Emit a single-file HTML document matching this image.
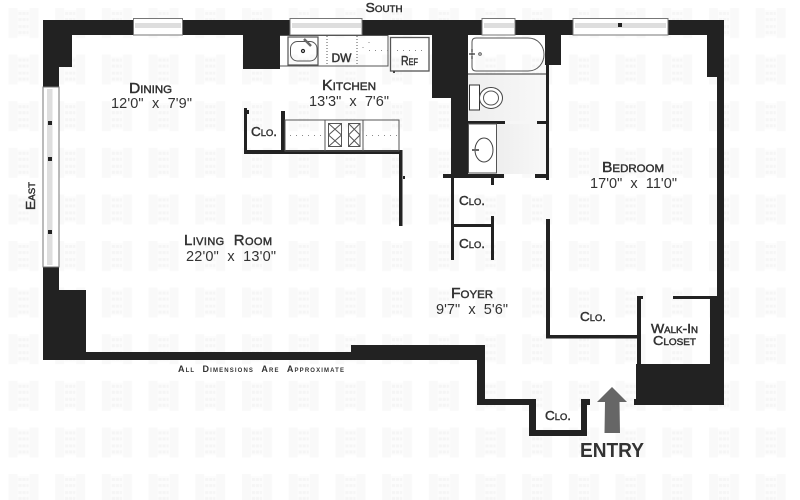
<!DOCTYPE html>
<html><head><meta charset="utf-8"><title>Floor plan</title>
<style>
html,body{margin:0;padding:0;background:#fff}
svg{display:block}
text{font-family:"Liberation Sans",sans-serif;fill:#333}
.l{font-variant:small-caps;font-size:15px;stroke:#333;stroke-width:.45}
.d{font-size:14.5px;fill:#333}
</style></head><body>
<svg width="800" height="500" viewBox="0 0 800 500" xmlns="http://www.w3.org/2000/svg">
<defs>
<pattern id="wm" x="8.5" y="8" width="46.7" height="46.6" patternUnits="userSpaceOnUse">
<rect x="0" y="0" width="9" height="30" fill="#f9f9f9"/>
<rect x="21" y="0" width="9" height="30" fill="#f9f9f9"/>
<rect x="9" y="2" width="12" height="26" fill="#fcfcfc"/>
<g fill="#f5f5f5">
<rect x="10" y="4" width="3" height="3"/><rect x="14" y="4" width="3" height="3"/><rect x="18" y="4" width="2" height="3"/>
<rect x="10" y="10" width="3" height="3"/><rect x="14" y="10" width="3" height="3"/><rect x="18" y="10" width="2" height="3"/>
<rect x="10" y="17" width="3" height="3"/><rect x="14" y="17" width="3" height="3"/><rect x="18" y="17" width="2" height="3"/>
<rect x="10" y="23" width="3" height="3"/><rect x="14" y="23" width="3" height="3"/><rect x="18" y="23" width="2" height="3"/>
</g>
</pattern>
<linearGradient id="fl" x1="0" x2="1"><stop offset="0" stop-color="#eeeeee"/><stop offset="1" stop-color="#f8f8f8"/></linearGradient>
</defs>
<rect width="800" height="500" fill="#fff"/>
<rect width="800" height="500" fill="url(#wm)"/>

<!-- bath floors -->
<rect x="468" y="74" width="78" height="47" fill="url(#fl)"/>
<rect x="497" y="124" width="49" height="50" fill="url(#fl)"/>
<rect x="505" y="121" width="32" height="3" fill="#f6f6f6"/>

<!-- thick walls -->
<g fill="#222">
<rect x="43" y="20" width="681" height="15"/>
<rect x="43" y="20" width="29" height="47"/>
<rect x="43" y="60" width="16" height="27"/>
<rect x="243" y="35" width="37" height="34"/>
<rect x="432" y="35" width="36" height="63"/>
<rect x="451" y="98" width="17" height="77"/>
<rect x="545" y="35" width="16" height="30"/>
<rect x="546" y="65" width="3" height="115"/>
<rect x="707" y="35" width="17" height="42"/>
<rect x="717" y="77" width="7" height="328"/>
<rect x="710" y="296" width="7" height="68"/>
<rect x="636" y="364" width="88" height="41"/>
<rect x="634" y="399" width="3" height="6"/>
<rect x="43" y="267" width="16" height="93"/>
<rect x="43" y="290" width="43" height="70"/>
<rect x="86" y="352" width="399" height="8"/>
<rect x="351" y="345" width="134" height="15"/>
<rect x="477" y="345" width="8" height="60"/>
<rect x="477" y="399" width="58" height="6"/>
<rect x="529" y="399" width="7" height="37"/>
<rect x="529" y="430" width="58" height="6"/>
<rect x="581" y="399" width="6" height="37"/>
<rect x="581" y="399" width="9" height="6"/>
<!-- thin walls -->
<rect x="244" y="108" width="3" height="45"/><rect x="247" y="110" width="2" height="4"/>
<rect x="244" y="150" width="158" height="4"/>
<rect x="281" y="111" width="4" height="40"/>
<rect x="399" y="150" width="3.5" height="76"/>
<rect x="403" y="176" width="2" height="3"/>
<rect x="451" y="175" width="3" height="85"/>
<rect x="443" y="174" width="61" height="4"/>
<rect x="491" y="178" width="3" height="7"/>
<rect x="491" y="216" width="3" height="44"/>
<rect x="451" y="224" width="41" height="3"/>
<rect x="535" y="174" width="14" height="4"/>
<rect x="468" y="121" width="37" height="3"/>
<rect x="537" y="121" width="12" height="3"/>
<rect x="546" y="219" width="4" height="119"/>
<rect x="546" y="335" width="92" height="3.5"/>
<rect x="637" y="296" width="4" height="68"/>
<rect x="637" y="296" width="6" height="3"/>
<rect x="673" y="296" width="38" height="3"/>
</g>

<!-- windows -->
<g stroke="#777" stroke-width="1" fill="#fff">
<rect x="133.500" y="18.500" width="49" height="16.500"/>
<rect x="290" y="18.500" width="72" height="16.500"/>
<rect x="482" y="18.500" width="33" height="16.500"/>
<rect x="573" y="18.500" width="95" height="16.500"/>
<rect x="43" y="87" width="16" height="180"/>
</g>
<g fill="#dedede">
<rect x="135" y="23" width="46" height="5"/>
<rect x="292" y="23" width="69" height="5"/>
<rect x="484" y="23" width="30" height="5"/>
<rect x="575" y="23" width="91" height="5"/>
<rect x="47" y="89" width="5.500" height="176"/>
</g>
<g fill="#222">
<rect x="618" y="23" width="4" height="4"/>
<rect x="48" y="121" width="4" height="4"/>
<rect x="48" y="157" width="4" height="4"/>
<rect x="48" y="230" width="4" height="4"/>
</g>

<!-- kitchen -->
<g fill="none" stroke="#555" stroke-width="1">
<path d="M280 35.500H388V66H280"/>
<rect x="288" y="37" width="30" height="28" stroke-width="1.200"/>
<rect x="290.500" y="41.500" width="26.500" height="19.500" rx="7"/>
<rect x="390.500" y="37.500" width="38.500" height="33.500" stroke-width="1.300"/>
<path d="M327 36V65M357 36V65" stroke-dasharray="1 2"/>
<path d="M369 50.500H388M397 50.500H427M369 42V44M363 47V49" stroke-dasharray="1 5" stroke="#888"/>
<rect x="285" y="120" width="114" height="31"/>
<path d="M325 120V151M363 120V151"/>
<rect x="328.500" y="123.500" width="13" height="23"/>
<rect x="348.500" y="123.500" width="11.500" height="23"/>
<path d="M328.500 123.500L341.500 135M341.500 123.500L328.500 135M328.500 135L341.500 146.500M341.500 135L328.500 146.500M348.500 123.500L360 135M360 123.500L348.500 135M348.500 135L360 146.500M360 135L348.500 146.500"/>
<path d="M290 135.500H322M366 135.500H397" stroke-dasharray="1 5" stroke="#888"/>
</g>
<path d="M304 39L311 46" stroke="#666" stroke-width="2.500"/>
<circle cx="303" cy="51" r="1.500" fill="none" stroke="#222" stroke-width="1.200"/>
<rect x="393" y="71" width="2" height="2" fill="#444"/>

<!-- bath fixtures -->
<g fill="none" stroke="#555" stroke-width="1">
<path d="M468 74H546" stroke="#333"/>
<path d="M476 38H528C538 38 544 46 544 54.500C544 63 538 71 528 71H476C473.500 71 472 69.500 472 67V42C472 39.500 473.500 38 476 38Z"/>
<circle cx="480" cy="54" r="1.300"/>
<path d="M469 54H475M472 49V52M472 56V59" stroke="#333" stroke-width="1.200"/>
<rect x="469.500" y="85" width="10" height="25" fill="#fff" stroke="#333"/>
<ellipse cx="491" cy="98" rx="11.500" ry="10.500" fill="#fff" stroke="#444"/>
<ellipse cx="491" cy="98" rx="7.500" ry="7"/>
<rect x="468.500" y="124" width="28" height="49" fill="#fff" stroke="#555"/>
<ellipse cx="484" cy="150" rx="9" ry="12" fill="#fff" stroke="#444"/>
<path d="M472 150H479" stroke="#666" stroke-width="2"/>
</g>

<!-- arrow -->
<path d="M612 387L627 402H619.500L620 433H604.500L605 402H597Z" fill="#666"/>

<!-- labels -->
<text class="l" x="150.500" y="93" text-anchor="middle" textLength="43" lengthAdjust="spacingAndGlyphs">Dining</text>
<text class="d" x="151.500" y="108" text-anchor="middle" textLength="81" lengthAdjust="spacing">12'0"&#160;&#160;x&#160;&#160;7'9"</text>
<text class="l" x="349" y="90" text-anchor="middle" textLength="54" lengthAdjust="spacingAndGlyphs">Kitchen</text>
<text class="d" x="349" y="106" text-anchor="middle" textLength="80" lengthAdjust="spacing">13'3"&#160;&#160;x&#160;&#160;7'6"</text>
<text class="l" x="264" y="136" text-anchor="middle" textLength="26" lengthAdjust="spacingAndGlyphs" style="font-size:13px">Clo.</text>
<text x="341.500" y="62" text-anchor="middle" style="font-size:12px;stroke:#333;stroke-width:.45">DW</text>
<text class="l" x="409.500" y="65" text-anchor="middle" textLength="17" lengthAdjust="spacingAndGlyphs" style="font-size:13px">Ref</text>
<text class="l" x="384" y="12" text-anchor="middle" textLength="37" lengthAdjust="spacingAndGlyphs" style="font-size:13px">South</text>
<text class="l" transform="translate(35 196) rotate(-90)" text-anchor="middle" textLength="28" lengthAdjust="spacingAndGlyphs" style="font-size:13px">East</text>
<text class="l" x="633" y="172" text-anchor="middle" textLength="62" lengthAdjust="spacingAndGlyphs">Bedroom</text>
<text class="d" x="633.500" y="188" text-anchor="middle" textLength="87" lengthAdjust="spacing">17'0"&#160;&#160;x&#160;&#160;11'0"</text>
<text class="l" x="228" y="245" text-anchor="middle" textLength="88" lengthAdjust="spacing">Living&#160;&#160;Room</text>
<text class="d" x="231" y="261" text-anchor="middle" textLength="90" lengthAdjust="spacing">22'0"&#160;&#160;x&#160;&#160;13'0"</text>
<text x="261" y="372" text-anchor="middle" textLength="166" lengthAdjust="spacing" style="font-size:9px;font-weight:bold;font-variant:small-caps">All&#160;&#160;Dimensions&#160;&#160;Are&#160;&#160;Approximate</text>
<text class="l" x="472" y="205" text-anchor="middle" textLength="26" lengthAdjust="spacingAndGlyphs" style="font-size:13px">Clo.</text>
<text class="l" x="472" y="248" text-anchor="middle" textLength="26" lengthAdjust="spacingAndGlyphs" style="font-size:13px">Clo.</text>
<text class="l" x="593" y="321" text-anchor="middle" textLength="26" lengthAdjust="spacingAndGlyphs" style="font-size:13px">Clo.</text>
<text class="l" x="472" y="298" text-anchor="middle" textLength="42" lengthAdjust="spacingAndGlyphs">Foyer</text>
<text class="d" x="472" y="314" text-anchor="middle" textLength="72" lengthAdjust="spacing">9'7"&#160;&#160;x&#160;&#160;5'6"</text>
<text class="l" x="674.500" y="333" text-anchor="middle" textLength="47" lengthAdjust="spacingAndGlyphs" style="font-size:13px">Walk-In</text>
<text class="l" x="674.500" y="345" text-anchor="middle" textLength="43" lengthAdjust="spacingAndGlyphs" style="font-size:13px">Closet</text>
<text class="l" x="558" y="420" text-anchor="middle" textLength="26" lengthAdjust="spacingAndGlyphs" style="font-size:13px">Clo.</text>
<text x="612" y="457" text-anchor="middle" textLength="64" lengthAdjust="spacingAndGlyphs" style="font-size:20px;font-weight:bold">ENTRY</text>
</svg>
</body></html>
